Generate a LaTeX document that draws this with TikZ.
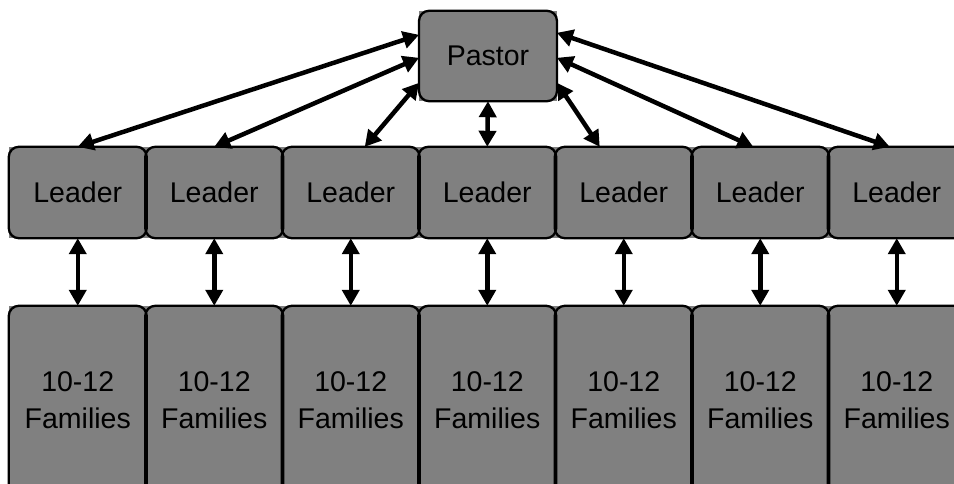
\documentclass[tikz,border=0pt]{standalone}
\usepackage{fontspec}
\setmainfont{Liberation Sans}
\usetikzlibrary{arrows.meta,calc}
\definecolor{boxgray}{HTML}{808080}

\tikzset{
  boxfill/.style={rectangle, fill=boxgray, inner sep=0pt, minimum width=137.5pt,
    align=center, text=black, font=\fontsize{28.5}{36.5}\selectfont},
  boxline/.style={draw=black, line width=2.3pt, rounded corners=10pt},
  link/.style={line width=4.5pt,
    {Triangle[length=16pt,width=17pt]}-{Triangle[length=16pt,width=17pt]}}
}

\begin{document}
\begin{tikzpicture}[x=1pt,y=-1pt]
\clip (0,0) rectangle (954,483);

% square fills first
\node[boxfill, minimum height=90pt] (P) at (488,56) {Pastor};
\foreach \i in {1,...,7} {
  \node[boxfill, minimum height=91pt]  (L\i) at ({77.75+(\i-1)*136.5},192.5) {Leader};
  \node[boxfill, minimum height=188pt] (F\i) at ({77.75+(\i-1)*136.5},400) {10-12\\Families};
}

% rounded outlines on top
\draw[boxline] (P.north west) rectangle (P.south east);
\foreach \i in {1,...,7} {
  \draw[boxline] (L\i.north west) rectangle (L\i.south east);
  \draw[boxline] (F\i.north west) rectangle (F\i.south east);
}

% attachment points on the Pastor box
\coordinate (pl1) at ($(P.north west)+(0,24)$);
\coordinate (pl2) at ($(P.north west)+(0,47)$);
\coordinate (pl3) at ($(P.north west)+(0,72)$);
\coordinate (pr1) at ($(P.north east)+(0,22)$);
\coordinate (pr2) at ($(P.north east)+(0,47)$);
\coordinate (pr3) at ($(P.north east)+(0,72)$);

% attachment points on the leaders
\coordinate (t1) at (L1.north);
\coordinate (t2) at (L2.north);
\coordinate (t3) at ($(L3.north)+(14,0)$);
\coordinate (t5) at ($(L5.north)+(-24,0)$);
\coordinate (t6) at ($(L6.north)+(-7,0)$);
\coordinate (t7) at ($(L7.north)+(-7,0)$);

% pastor to leaders
\draw[link] (t1) -- (pl1);
\draw[link] (t2) -- (pl2);
\draw[link] (t3) -- (pl3);
\draw[link] (L4.north) -- (P.south);
\draw[link] (t5) -- (pr3);
\draw[link] (t6) -- (pr2);
\draw[link] (t7) -- (pr1);

% leaders to families
\foreach \i in {1,...,7} {
  \draw[link] (L\i.south) -- (F\i.north);
}
\end{tikzpicture}
\end{document}
